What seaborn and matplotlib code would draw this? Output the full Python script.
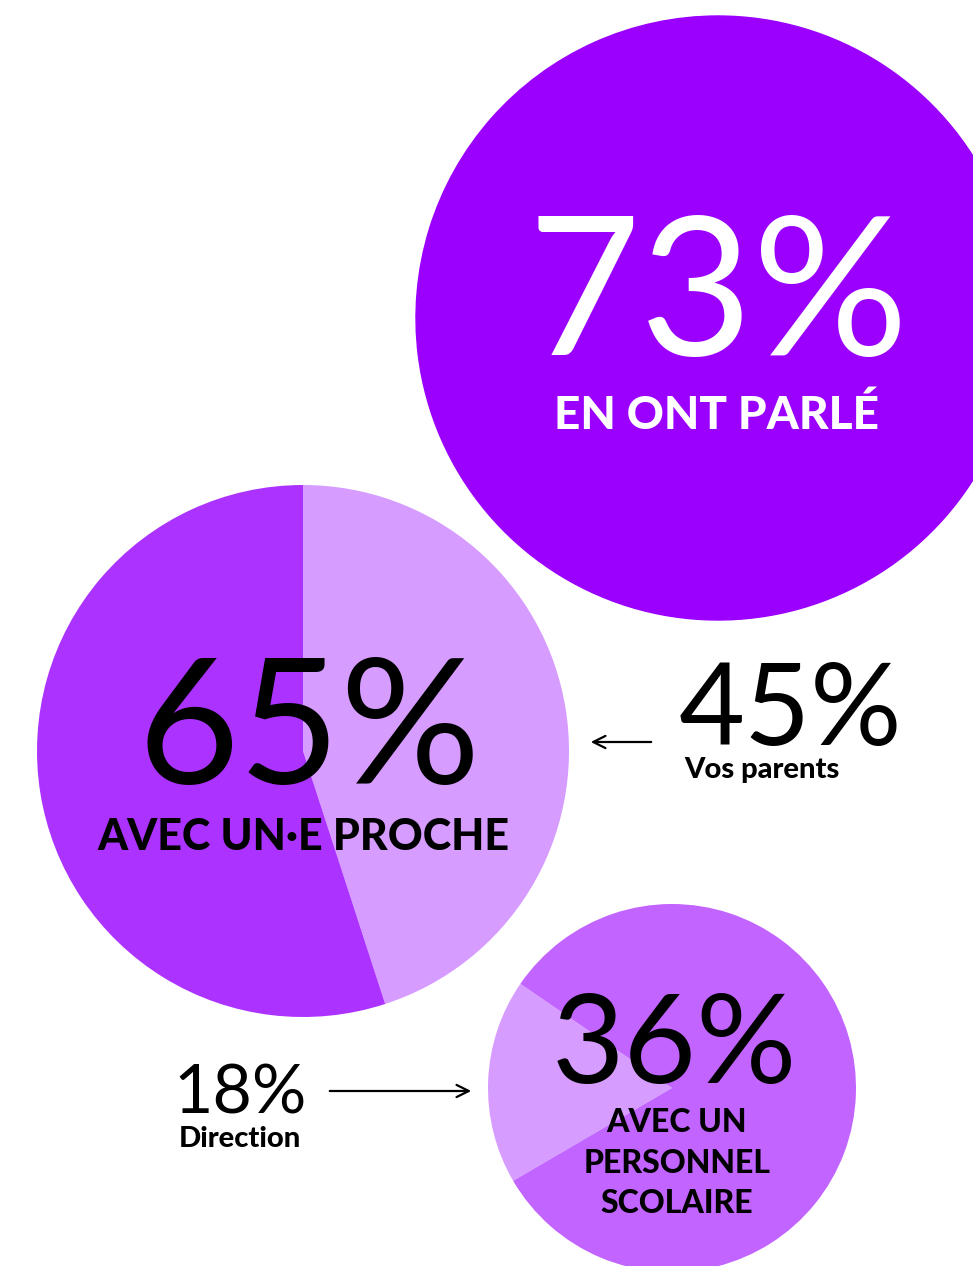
import matplotlib
matplotlib.use("Agg")
import matplotlib.pyplot as plt
import seaborn as sns

sns.set_theme(style="white")
plt.rcParams['font.family'] = ['Lato', 'DejaVu Sans']

# ---------------- data ----------------
headline_values = [73, 65, 36]
headline_labels = ["EN ONT PARLÉ", "AVEC UN\u2219E PROCHE", ["AVEC UN", "PERSONNEL", "SCOLAIRE"]]
parle_split = [73, 27]          # share who talked about it
proche_split = [45, 55]         # of which: parents
proche_sub_value = 45
proche_sub_label = "Vos parents"
scolaire_split = [18, 82]       # of which: direction
scolaire_sub_value = 18
scolaire_sub_label = "Direction"

# ---------------- style ----------------
C_BIG = "#9B00FF"
C_MID_DARK = "#AC33FF"
C_LIGHT = "#D69CFF"
C_SMALL_DARK = "#C264FF"

W, H = 973, 1266
fig = plt.figure(figsize=(W / 100, H / 100), dpi=100)
ax = fig.add_axes([0, 0, 1, 1])

def Y(ypx):
    return H - ypx

# big circle
ax.pie(parle_split, colors=[C_BIG, C_BIG], center=(718, Y(318)), radius=302,
       startangle=90, counterclock=False,
       wedgeprops=dict(linewidth=1, edgecolor=C_BIG))
# middle pie
ax.pie(proche_split, colors=[C_LIGHT, C_MID_DARK], center=(303, Y(751)), radius=266,
       startangle=90, counterclock=False, wedgeprops=dict(linewidth=0))
# small pie
ax.pie(scolaire_split, colors=[C_LIGHT, C_SMALL_DARK], center=(672, Y(1088)), radius=184,
       startangle=145.5, counterclock=True, wedgeprops=dict(linewidth=0))

ax.set_xlim(0, W)
ax.set_ylim(0, H)
ax.set_aspect('equal')
ax.axis('off')

def txt(x, ypx, s, size, weight="normal", color="black"):
    ax.text(x, Y(ypx), s, ha="center", va="baseline", fontsize=size,
            fontweight=weight, color=color)

BOLD = "black"

# big circle texts
txt(718, 355, f"{headline_values[0]}%", 140, "normal", "white")
txt(717, 429, headline_labels[0], 33, BOLD, "white")

# middle pie texts
txt(309, 784, f"{headline_values[1]}%", 126)
txt(303, 850, headline_labels[1], 31, BOLD)

txt(790, 745, f"{proche_sub_value}%", 82)
txt(762, 778, proche_sub_label, 21, BOLD)
ax.annotate("", xy=(588, Y(742)), xytext=(654, Y(742)),
            arrowprops=dict(arrowstyle="->", lw=1.6, color="black", mutation_scale=22))

# small pie texts
txt(674, 1083, f"{headline_values[2]}%", 90)
for ypx, line in zip([1132, 1173, 1213], headline_labels[2]):
    txt(677, ypx, line, 23, BOLD)

txt(240, 1114, f"{scolaire_sub_value}%", 49)
txt(240, 1147, scolaire_sub_label, 21, BOLD)
ax.annotate("", xy=(474, Y(1091)), xytext=(327, Y(1091)),
            arrowprops=dict(arrowstyle="->", lw=1.6, color="black", mutation_scale=22))

fig.savefig("out.png", dpi=100, facecolor="white")
